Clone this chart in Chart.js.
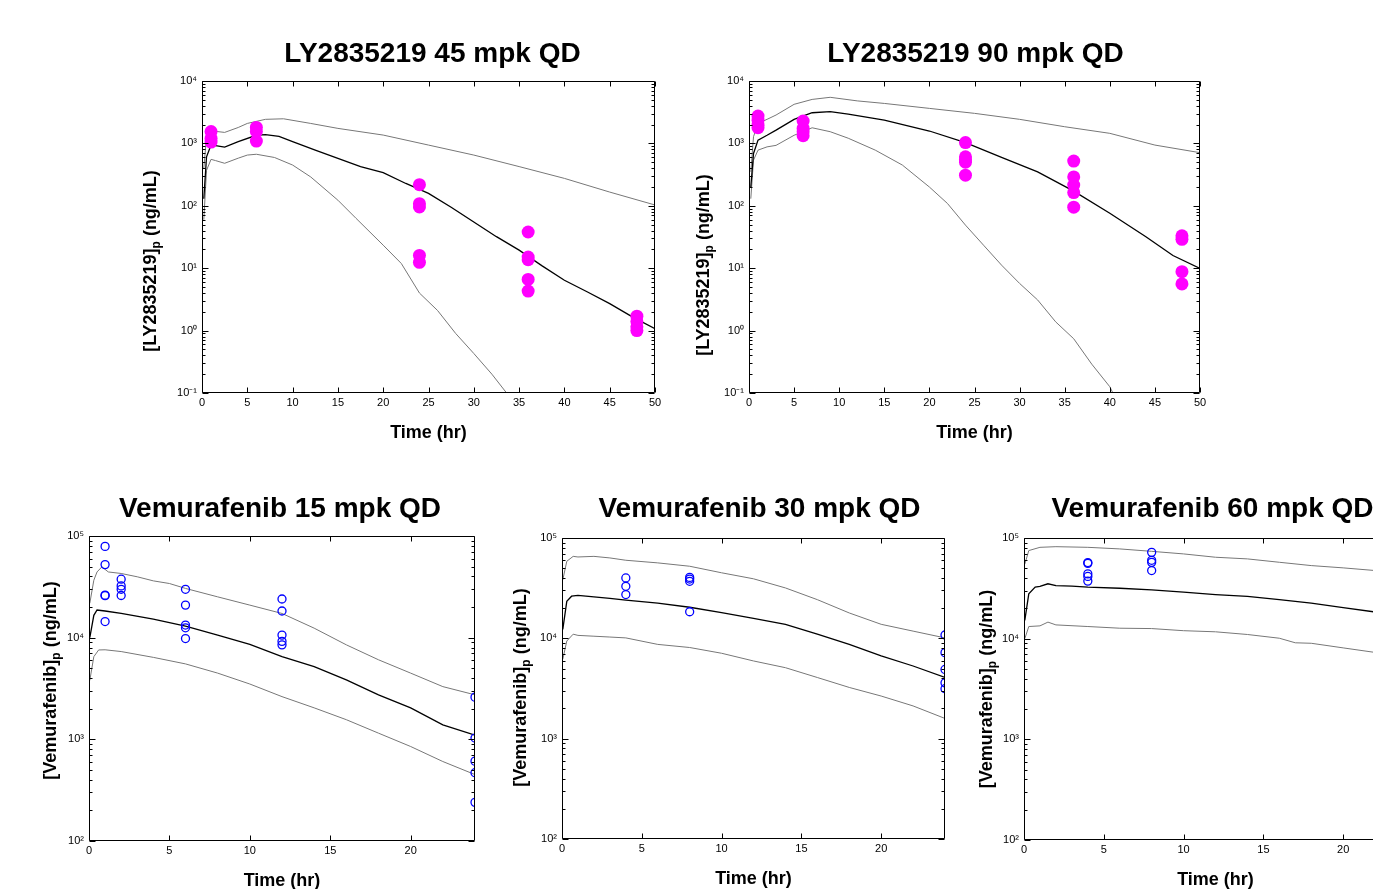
<!DOCTYPE html>
<html>
<head>
<meta charset="utf-8">
<script src="https://cdn.jsdelivr.net/npm/chart.js@4.4.1/dist/chart.umd.min.js"></script>
<style>
  html, body { margin: 0; padding: 0; background: #fff; overflow: hidden; }
  body { width: 1373px; height: 889px; position: relative; }
  canvas { position: absolute; }
</style>
</head>
<body>
<canvas id="ly45" width="543" height="413" style="left:132px;top:31px"></canvas>
<canvas id="ly90" width="541" height="413" style="left:679px;top:31px"></canvas>
<canvas id="vem15" width="476" height="406" style="left:19px;top:486px"></canvas>
<canvas id="vem30" width="473" height="402" style="left:492px;top:488px"></canvas>
<canvas id="vem60" width="473" height="403" style="left:954px;top:488px"></canvas>
<script>
// ---- LY2835219 45 mpk QD : [time hr, conc ng/mL] ----
var ly45Median = [[0.2,130],[0.5,610],[1,940],[1.5,920],[2.5,870],[4,1070],[6,1350],[7,1380],[8.5,1300],[10,1070],[12.5,780],[15,575],[17.5,425],[20,340],[22.5,228],[25,158],[27.5,95],[30,55],[32.5,32],[35,19.5],[37.5,11],[40,6.4],[42.5,4.2],[45,2.7],[47.5,1.66],[50,1.07]];
var ly45Upper = [[0.2,400],[0.5,1260],[1,1580],[1.5,1560],[2.5,1500],[4,1800],[5,2090],[7,2430],[9,2480],[12,2090],[15,1740],[20,1360],[25,940],[30,650],[35,425],[40,275],[45,166],[50,103]];
var ly45Lower = [[0.2,60],[0.5,370],[1,555],[1.5,530],[2.5,480],[4,580],[5,650],[6,670],[8,595],[10,450],[12,290],[15,123],[17,63],[20,23.4],[22,11.9],[24,4],[26,2.1],[28,0.9],[30,0.43],[32,0.2],[34,0.085]];
var ly45ObsTime = [1,1,1,6,6,6,24,24,24,24,24,36,36,36,36,36,48,48,48,48];
var ly45ObsConc = [1550,1200,1050,1800,1550,1090,218,108,96,16,12.4,38,15.1,13.7,6.6,4.3,1.7,1.4,1.15,1.0];

// ---- LY2835219 90 mpk QD ----
var ly90Median = [[0.2,200],[0.5,690],[1,1130],[2,1350],[3,1630],[5,2430],[7,3100],[9,3230],[11,2950],[15,2360],[20,1580],[24,1030],[28,595],[32,350],[36,172],[40,76],[44,32],[47,16],[50,9.9]];
var ly90Upper = [[0.2,350],[0.5,1280],[1,2090],[2,2430],[3,2850],[5,4230],[7,5070],[9,5480],[12,4800],[15,4370],[20,3640],[25,3030],[30,2430],[35,1850],[40,1450],[45,940],[50,710]];
var ly90Lower = [[0.2,130],[0.5,540],[1,780],[2,880],[3,930],[5,1350],[7,1780],[9,1540],[11,1210],[14,780],[17,450],[20,200],[22,109],[24,49],[26,23.4],[28,11.2],[30,5.7],[32,3.1],[34,1.38],[36,0.74],[38,0.29],[40,0.126],[40.5,0.09]];
var ly90ObsTime = [1,1,1,1,6,6,6,6,24,24,24,24,24,36,36,36,36,36,48,48,48,48];
var ly90ObsConc = [2750,2360,1960,1780,2280,1740,1540,1330,1030,610,550,500,310,520,290,215,163,95,33,29,8.8,5.6];

// ---- Vemurafenib 15 mpk QD ----
var vem15Median = [[0.05,10000],[0.3,16600],[0.5,18700],[1,18300],[2,17300],[4,15200],[6,13000],[8,10600],[10,8600],[12,6500],[14,5190],[16,3840],[18,2740],[20,2040],[22,1390],[24,1100]];
var vem15Upper = [[0.05,21800],[0.3,36700],[0.5,44300],[0.8,49700],[1.2,44300],[2,42800],[3,39700],[4,36200],[5,34100],[6,30500],[8,25200],[10,20900],[12,17300],[14,12400],[16,8500],[18,6060],[20,4480],[22,3300],[24,2740]];
var vem15Lower = [[0.05,3800],[0.3,6500],[0.6,7570],[1,7600],[2,7300],[4,6400],[6,5520],[8,4480],[10,3500],[12,2630],[14,2040],[16,1560],[18,1150],[20,850],[22,605],[24,450]];
var vem15ObsTime = [1,1,1,1,1,2,2,2,2,6,6,6,6,6,12,12,12,12,12,24,24,24,24,24];
var vem15ObsConc = [79000,52300,26200,25900,14400,37600,32300,29900,26000,29900,20900,13300,12500,9800,24000,18300,10600,9200,8500,2600,1030,610,470,240];

// ---- Vemurafenib 30 mpk QD ----
var vem30Median = [[0.05,12300],[0.3,23400],[0.6,26300],[1,26800],[2,25900],[3,25000],[4,24000],[6,22400],[8,20400],[10,18000],[12,15800],[14,13800],[16,11000],[18,8700],[20,6700],[22,5300],[24,4070]];
var vem30Upper = [[0.05,38400],[0.3,58600],[0.7,65600],[1,64700],[2,65600],[3,63300],[4,60000],[6,56500],[8,52300],[10,45000],[12,39200],[14,31800],[16,24300],[18,17900],[20,13800],[22,11800],[24,10100]];
var vem30Lower = [[0.05,6200],[0.3,9400],[0.7,11000],[1,10700],[2,10500],[3,10300],[4,10100],[6,8700],[8,8100],[10,7100],[12,5950],[14,5100],[16,4070],[18,3240],[20,2660],[22,2120],[24,1590]];
var vem30ObsTime = [4,4,4,8,8,8,8,24,24,24,24,24];
var vem30ObsConc = [40000,33000,27300,40500,39000,37000,18400,10800,7200,4900,3600,3150];

// ---- Vemurafenib 60 mpk QD ----
var vem60Median = [[0.05,15200],[0.3,27900],[0.7,32500],[1,33000],[1.5,35100],[2,33700],[3,33200],[4,32500],[6,31700],[8,30500],[10,29000],[12,27400],[14,26300],[16,24400],[18,22500],[20,20300],[22,18400],[24,17000]];
var vem60Upper = [[0.05,55000],[0.3,75000],[1,80800],[2,82000],[4,80800],[6,77900],[8,73700],[10,69500],[12,64400],[14,62000],[16,57400],[18,53200],[20,50500],[22,47500],[24,46000]];
var vem60Lower = [[0.05,10000],[0.3,13200],[1,13400],[1.5,14600],[2,13700],[4,13200],[6,12700],[8,12600],[10,12000],[12,11700],[14,11000],[16,10100],[17,9100],[18,9000],[20,8100],[22,7300],[24,6700]];
var vem60ObsTime = [4,4,4,4,4,8,8,8,8];
var vem60ObsConc = [57000,56000,44000,41500,37300,72000,60000,57300,47500];

var FONT = '"Liberation Sans", Arial, Helvetica, sans-serif';
Chart.defaults.font.family = FONT;
Chart.defaults.color = '#000';

var SUP = {'-': '\u207B', '0': '\u2070', '1': '\u00B9', '2': '\u00B2', '3': '\u00B3', '4': '\u2074', '5': '\u2075'};
function powLabel(v) {
  var e = String(Math.round(Math.log10(v)));
  return '10' + e.split('').map(function(c) { return SUP[c]; }).join('');
}

// box, inward ticks (MATLAB style), panel title and y title with subscript
var frame = {
  id: 'frame',
  afterDraw: function(chart, args, o) {
    var ctx = chart.ctx, a = chart.chartArea;
    var x = chart.scales.x, y = chart.scales.y;
    var L = Math.round(a.left) + 0.5, R = Math.round(a.right) - 0.5;
    var T = Math.round(a.top) + 0.5, B = Math.round(a.bottom) - 0.5;
    ctx.save();
    ctx.strokeStyle = '#000';
    ctx.lineWidth = 1;
    ctx.beginPath();
    ctx.rect(L, T, R - L, B - T);
    x.ticks.forEach(function(t) {
      var px = Math.round(x.getPixelForValue(t.value)) + 0.5;
      ctx.moveTo(px, B); ctx.lineTo(px, B - 5);
      ctx.moveTo(px, T); ctx.lineTo(px, T + 5);
    });
    var e0 = Math.round(Math.log10(y.min)), e1 = Math.round(Math.log10(y.max));
    for (var e = e0; e <= e1; e++) {
      for (var m = 1; m < 10; m++) {
        var v = m * Math.pow(10, e);
        if (v > y.max * 1.0001) break;
        var py = Math.round(y.getPixelForValue(v)) + 0.5;
        var len = m === 1 ? 6 : 3;
        ctx.moveTo(L, py); ctx.lineTo(L + len, py);
        ctx.moveTo(R, py); ctx.lineTo(R - len, py);
      }
    }
    ctx.stroke();

    ctx.fillStyle = '#000';
    ctx.font = 'bold 28px ' + FONT;
    ctx.textAlign = 'center';
    ctx.textBaseline = 'alphabetic';
    ctx.fillText(o.title, (a.left + a.right) / 2 + o.titleDx, a.top + o.titleDy);

    // rotated y title: name, subscript p, unit
    ctx.translate(a.left + o.yDx, (a.top + a.bottom) / 2 + o.yDy);
    ctx.rotate(-Math.PI / 2);
    ctx.textAlign = 'left';
    ctx.textBaseline = 'middle';
    var mainFont = 'bold 18px ' + FONT, subFont = 'bold 12px ' + FONT;
    var unit = ' (ng/mL)';
    ctx.font = mainFont;
    var w1 = ctx.measureText(o.yName).width, w3 = ctx.measureText(unit).width;
    ctx.font = subFont;
    var w2 = ctx.measureText('p').width;
    var sx = -(w1 + w2 + w3) / 2;
    ctx.font = mainFont;
    ctx.fillText(o.yName, sx, 0);
    ctx.font = subFont;
    ctx.fillText('p', sx + w1, 6);
    ctx.font = mainFont;
    ctx.fillText(unit, sx + w1 + w2, 0);
    ctx.restore();
  }
};

function pts(pairs) {
  return pairs.map(function(p) { return {x: p[0], y: p[1]}; });
}
function obs(times, concs) {
  return times.map(function(t, i) { return {x: t, y: concs[i]}; });
}

function makePanel(id, median, upper, lower, obsTime, obsConc, s) {
  var obsSet = s.filled
    ? {pointRadius: 6.5, pointBackgroundColor: '#ff00ff', pointBorderColor: '#ff00ff', pointBorderWidth: 0}
    : {pointRadius: 4, pointBackgroundColor: 'rgba(0,0,0,0)', pointBorderColor: '#0000ff', pointBorderWidth: 1.3};
  new Chart(document.getElementById(id), {
    type: 'scatter',
    data: {
      datasets: [
        Object.assign({label: 'Observed', data: obs(obsTime, obsConc), showLine: false, order: 0}, obsSet),
        {label: 'Median', data: pts(median), showLine: true, borderColor: '#000', borderWidth: 1.3, pointRadius: 0, order: 1},
        {label: '95% upper', data: pts(upper), showLine: true, borderColor: '#777', borderWidth: 1, pointRadius: 0, order: 2},
        {label: '95% lower', data: pts(lower), showLine: true, borderColor: '#777', borderWidth: 1, pointRadius: 0, order: 3}
      ]
    },
    options: {
      responsive: false,
      animation: false,
      events: [],
      layout: {padding: {top: 50, right: 20, left: 0, bottom: 0}},
      plugins: {
        legend: {display: false},
        tooltip: {enabled: false},
        frame: s
      },
      scales: {
        x: {
          type: 'linear',
          min: 0,
          max: s.xMax,
          grid: {display: false, drawTicks: false},
          border: {display: false},
          ticks: {stepSize: 5, includeBounds: false, padding: 3, font: {size: 11}, maxRotation: 0},
          title: {display: true, text: 'Time (hr)', font: {size: 18, weight: 'bold'}, padding: {top: 0, bottom: 0}},
          afterFit: function(sc) { sc.height = 51; }
        },
        y: {
          type: 'logarithmic',
          min: s.yMin,
          max: s.yMax,
          grid: {display: false, drawTicks: false},
          border: {display: false},
          ticks: {padding: 5, font: {size: 11}, autoSkip: false, callback: function(v) { return powLabel(v); }},
          afterBuildTicks: function(sc) {
            var t = [];
            for (var e = Math.round(Math.log10(s.yMin)); e <= Math.round(Math.log10(s.yMax)); e++) t.push({value: Math.pow(10, e)});
            sc.ticks = t;
          },
          afterFit: function(sc) { sc.width = 70; }
        }
      }
    },
    plugins: [frame]
  });
}

makePanel('ly45', ly45Median, ly45Upper, ly45Lower, ly45ObsTime, ly45ObsConc,
  {xMax: 50, yMin: 0.1, yMax: 1e4, filled: true, title: 'LY2835219 45 mpk QD', titleDx: 4, titleDy: -19, yName: '[LY2835219]', yDx: -51, yDy: 24});
makePanel('ly90', ly90Median, ly90Upper, ly90Lower, ly90ObsTime, ly90ObsConc,
  {xMax: 50, yMin: 0.1, yMax: 1e4, filled: true, title: 'LY2835219 90 mpk QD', titleDx: 1, titleDy: -19, yName: '[LY2835219]', yDx: -45, yDy: 28});
makePanel('vem15', vem15Median, vem15Upper, vem15Lower, vem15ObsTime, vem15ObsConc,
  {xMax: 24, yMin: 100, yMax: 1e5, filled: false, title: 'Vemurafenib 15 mpk QD', titleDx: -2, titleDy: -19, yName: '[Vemurafenib]', yDx: -38, yDy: -8});
makePanel('vem30', vem30Median, vem30Upper, vem30Lower, vem30ObsTime, vem30ObsConc,
  {xMax: 24, yMin: 100, yMax: 1e5, filled: false, title: 'Vemurafenib 30 mpk QD', titleDx: 6, titleDy: -21, yName: '[Vemurafenib]', yDx: -41, yDy: -1});
makePanel('vem60', vem60Median, vem60Upper, vem60Lower, vem60ObsTime, vem60ObsConc,
  {xMax: 24, yMin: 100, yMax: 1e5, filled: false, title: 'Vemurafenib 60 mpk QD', titleDx: -3, titleDy: -21, yName: '[Vemurafenib]', yDx: -37, yDy: 0});
</script>
</body>
</html>
